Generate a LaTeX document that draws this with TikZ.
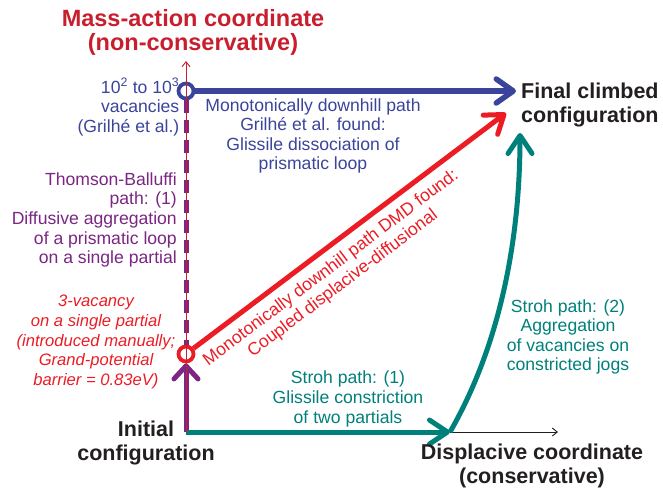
\documentclass[tikz,border=0pt]{standalone}
\usepackage{fontspec}
\setmainfont{Liberation Sans}
\usetikzlibrary{arrows.meta}
\definecolor{cblue}{RGB}{58,68,155}
\definecolor{cred}{RGB}{236,28,36}
\definecolor{ctitle}{RGB}{200,30,45}
\definecolor{cpurple}{RGB}{122,38,130}
\definecolor{cteal}{RGB}{0,128,122}
\definecolor{cblack}{RGB}{35,31,32}
\tikzset{
  lbl/.style={inner sep=0pt, align=center, font=\fontsize{17.6}{19.6}\selectfont},
  big/.style={inner sep=0pt, align=center, text=cblack, font=\fontsize{21.5}{23.5}\selectfont\bfseries},
  ring/.style={circle, minimum size=15pt, inner sep=0pt, line width=3.8pt, fill=white},
  thick path/.style={line width=5pt},
  barb/.style={-{Straight Barb[length=#1, width=24pt, round]}},
  axis/.style={line width=0.9pt, -{Straight Barb[length=5pt, width=8pt]}}
}
\begin{document}
\begin{tikzpicture}[x=1pt,y=-1pt]
\useasboundingbox (0,0) rectangle (663,491);
% key points
\coordinate (O) at (186,432);
\coordinate (Ytip) at (186,61);
\coordinate (Xtip) at (558,432);
\coordinate (M) at (450,432);
\coordinate (finB) at (516,91);
\coordinate (finR) at (506,113);
\coordinate (finT) at (520,133);
% circles
\node[ring, draw=cblue] (bc) at (186,91) {};
\node[ring, draw=cred] (rc) at (186,354) {};
% purple paths
\draw[cpurple, thick path, dash pattern=on 13pt off 7pt] (bc.south) -- (rc.north);
\draw[cpurple, thick path, barb=13pt] (O) -- (rc.south);
% teal horizontal
\draw[cteal, thick path, barb=18pt] (O) -- (M);
% axes
\draw[cblack, axis] (M) -- (Xtip);
\draw[ctitle, axis] (O) -- (Ytip);
% blue path
\draw[cblue, line width=5.5pt, barb=17pt] (bc.east) -- (finB);
% red path
\draw[cred, thick path, barb=17pt] (rc) -- (finR);
% teal curve
\draw[cteal, thick path, barb=18pt] (M) .. controls (500,345) and (520,240) .. (finT);
% texts
\node[big, text=ctitle, font=\fontsize{23.5}{24}\selectfont\bfseries] (ytitle) at (193,32) {Mass-action coordinate\\(non-conservative)};
\node[lbl, text=cblue, align=right, anchor=east] (vac) at (179.5,107) {10\textsuperscript{2} to 10\textsuperscript{3}\\vacancies\\(Grilhé et al.)};
\node[lbl, text=cblue] (grilhe) at (313,136) {Monotonically downhill path\\Grilhé et al. found:\\Glissile dissociation of\\prismatic loop};
\node[lbl, text=cpurple, align=right, anchor=east] (tb) at (177,220) {Thomson-Balluffi\\path: (1)\\Diffusive aggregation\\of a prismatic loop\\on a single partial};
\node[lbl, text=cred, font=\fontsize{16.6}{19.6}\selectfont\itshape] (three) at (96,342) {3-vacancy\\on a single partial\\(introduced manually;\\Grand-potential\\barrier = 0.83eV)};
\node[big] (init) at (146,443) {Initial\\configuration};
\node[lbl, text=cteal] (stroh1) at (348,399) {Stroh path: (1)\\Glissile constriction\\of two partials};
\node[lbl, text=cteal] (stroh2) at (568,337) {Stroh path: (2)\\Aggregation\\of vacancies on\\constricted jogs};
\node[big] (xtitle) at (532,466) {Displacive coordinate\\(conservative)};
\node[big, align=left, anchor=west] (final) at (521,105) {Final climbed\\configuration};
\node[lbl, text=cred, rotate=37] (dmd) at (337,276) {Monotonically downhill path DMD found:\\Coupled displacive-diffusional};
\end{tikzpicture}
\end{document}
